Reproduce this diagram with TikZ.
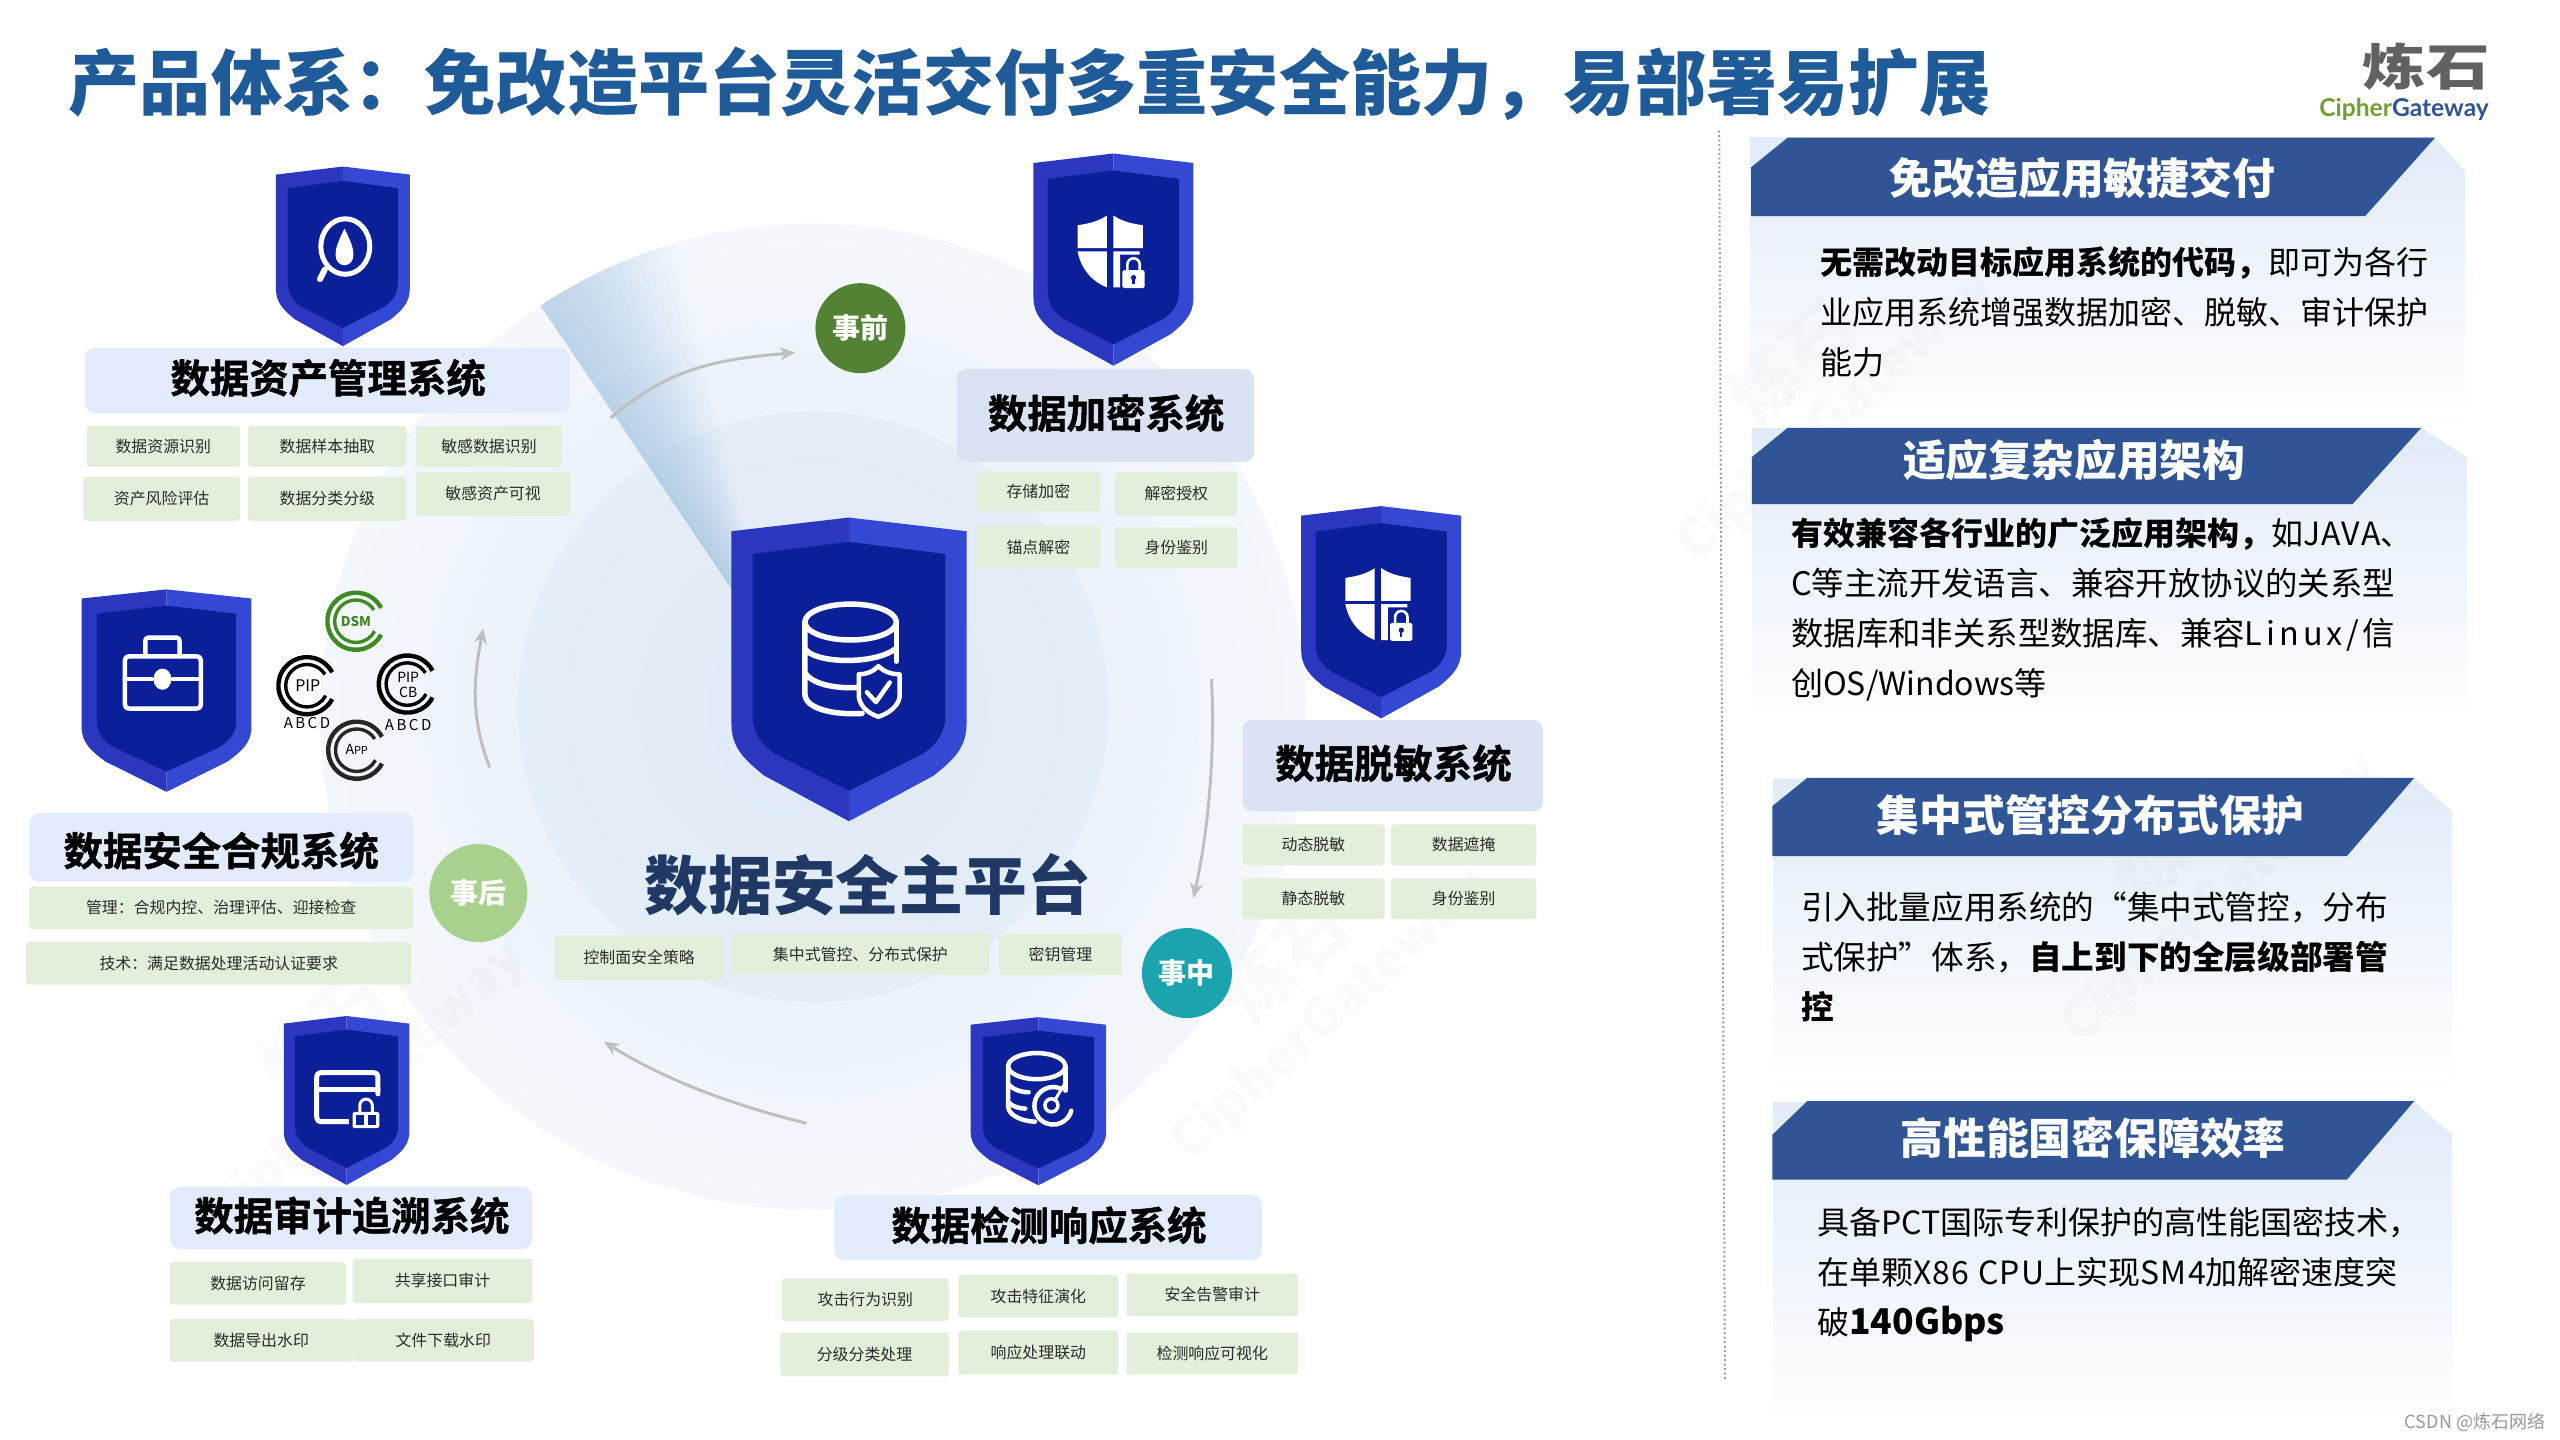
\documentclass[tikz,border=0pt]{standalone}
\usepackage{fontspec}
\setmainfont{Noto Sans CJK SC}
\newfontfamily\sysf{Noto Sans CJK SC}[UprightFont={* Bold},FakeBold=1.2]
\newfontfamily\logof{Lato}
\usetikzlibrary{arrows.meta}
\definecolor{titleblue}{HTML}{1F5A99}
\definecolor{platform}{HTML}{1F3864}
\definecolor{hdr}{HTML}{2F5597}
\definecolor{chipfill}{HTML}{E2EFDA}
\definecolor{chipink}{HTML}{2B2B2B}
\definecolor{boxa}{HTML}{E3ECFD}
\definecolor{boxb}{HTML}{DAE3F3}
\definecolor{shl}{HTML}{2B37BE}
\definecolor{shr}{HTML}{3548D4}
\definecolor{shi}{HTML}{0B1F99}
\definecolor{flowgray}{HTML}{BFBFBF}
\definecolor{ringa}{HTML}{F2F6FC}
\definecolor{ringb}{HTML}{E9F1FA}
\definecolor{ringc}{HTML}{DEEAF6}
\definecolor{panelblue}{HTML}{E1ECF9}
\definecolor{dsmgreen}{HTML}{3F8A23}
\definecolor{logogreen}{HTML}{6FA033}
\definecolor{wedgeblue}{HTML}{8FBBE3}
\definecolor{phasea}{HTML}{548235}
\definecolor{phaseb}{HTML}{A9D18E}
\definecolor{phasec}{HTML}{1BA4AD}
\tikzset{
  chipbox/.style={fill=chipfill,rounded corners=3},
  chiptext/.style={font=\fontsize{15.9}{19}\selectfont,text=chipink,inner sep=0pt},
  sysbox/.style={rounded corners=10},
  systext/.style={font=\sysf\fontsize{39.4}{44}\selectfont,text=black,inner sep=0pt},
  phase/.style={circle,minimum size=#1,inner sep=0pt,text=white,font=\bfseries\fontsize{28}{30}\selectfont},
  flow/.style={draw=flowgray,line width=3pt,-{Stealth[length=15pt,width=13pt]}},
  hdrtext/.style={font=\bfseries\fontsize{42.8}{46}\selectfont,text=white,inner sep=0pt},
  body/.style={font=\fontsize{32}{50}\selectfont,text=black,align=left,anchor=west,inner sep=0pt},
  icon/.style={draw=white,line width=5pt,line cap=round,line join=round},
  iconfine/.style={draw=white,line width=3.5pt,line cap=round,line join=round},
  badge/.style={inner sep=0pt,font=\fontsize{16}{17}\selectfont,text=black},
  wmark/.style={text=black,opacity=0.018,inner sep=0pt},
}
\newcommand{\shieldmark}[4]{%
  \begin{scope}[shift={(#1,#2)},xscale=#3/100,yscale=#4/100]
    \fill[shl] (0,0)--(-50,4.5)--(-50,68) .. controls (-50,76) and (-44,80) .. (-36,85)--(0,100)--cycle;
    \fill[shr] (0,0)--(50,4.5)--(50,68) .. controls (50,76) and (44,80) .. (36,85)--(0,100)--cycle;
    \fill[shi] (0,8)--(-41,12)--(-41,65) .. controls (-41,71) and (-37,75) .. (-31,78)--(0,90)--(31,78) .. controls (37,75) and (41,71) .. (41,65)--(41,12)--cycle;
  \end{scope}}
\newcommand{\chipat}[6]{%
  \path[chipbox] (#2,#3) rectangle (#4,#5);
  \node[chiptext] (#1) at ({(#2+#4)/2},{(#3+#5)/2}) {#6};}
\newcommand{\sysat}[7]{%
  \path[sysbox,fill=#6] (#2,#3) rectangle (#4,#5);
  \node[systext] (#1) at ({(#2+#4)/2+0.5},{(#3+#5)/2-1.5}) {#7};}
\newcommand{\shieldlock}[2]{%
  \begin{scope}[shift={(#1,#2)}]
    \fill[white] (-2,0) .. controls (-8,4) and (-14,5) .. (-20,6)--(-20,20)--(-2,20)--cycle;
    \fill[white] (2,0) .. controls (8,4) and (14,5) .. (20,6)--(20,20)--(2,20)--cycle;
    \fill[white] (-20,22)--(-2,22)--(-2,44) .. controls (-12,40) and (-18,32) .. (-20,22)--cycle;
    \fill[white] (2,22)--(18,22)--(18,24)--(6,24)--(6,44)--(2,44)--cycle;
    \fill[white,rounded corners=1.5] (7.5,33.5) rectangle (21,44.5);
    \draw[white,line width=2.6pt] (10.5,33.5) -- (10.5,30) arc[start angle=180,end angle=360,radius=3.8] -- (18.1,33.5);
    \fill[shi] (14.3,38) circle[radius=1.6];
    \fill[shi] (13.6,38) rectangle (15,42);
  \end{scope}}
\newcommand{\certring}[3]{%
  \begin{scope}[shift={(#1,#2)}]
    \draw[#3,line width=4.4pt] (28:17.5) arc[start angle=28,end angle=332,radius=17.5];
    \draw[#3,line width=3.4pt] (-32:13) arc[start angle=-32,end angle=-332,radius=13];
  \end{scope}}
\begin{document}
\begin{tikzpicture}[x=1.63265pt,y=-1.63265pt]
\useasboundingbox (0,0) rectangle (1568,882);
\fill[white] (0,0) rectangle (1568,882);

% concentric disks
\shade[inner color=ringb,outer color=ringa!85!white] (498,439) circle[radius=302];
\shade[inner color=ringb!85!ringc,outer color=ringb!80!white] (498,435) circle[radius=237];
\shade[inner color=ringc,outer color=ringc!80!white] (498,433) circle[radius=181];

% wedge
\begin{scope}
  \clip (498,439) circle[radius=302];
  \foreach \a in {104,105,...,124}{
    \fill[wedgeblue,opacity=0.03,shift={(476,402)}] (0,0)--(-124:420)--(-\a:420)--cycle;
  }
\end{scope}

% panel backgrounds
\shade[top color=panelblue,bottom color=white] (1072,132) -- (1072,84) -- (1491,84) -- (1510,105) -- (1510,262) -- (1072,262) -- cycle;
\shade[top color=panelblue,bottom color=white] (1073,308) -- (1073,262) -- (1483,262) -- (1511,280) -- (1511,448) -- (1073,448) -- cycle;
\shade[top color=panelblue,bottom color=white] (1086,524) -- (1086,477) -- (1479,477) -- (1502,497) -- (1502,670) -- (1086,670) -- cycle;
\shade[top color=panelblue,bottom color=white] (1086,722) -- (1086,675) -- (1479,675) -- (1502,695) -- (1502,882) -- (1086,882) -- cycle;

% watermarks
\foreach \nm/\wx/\wy in {wa/225/665,wb/815/622,wc/1125/255,wd/1360/550}{
  \node[wmark,rotate=42,font=\bfseries\fontsize{52}{54}\selectfont] (\nm t) at (\wx,\wy) {CipherGateway};
  \node[wmark,rotate=42,font=\bfseries\fontsize{70}{72}\selectfont,anchor=center] (\nm l) at (\wx-28,\wy-34) {炼石};
}

% divider
\draw[gray!75,line width=2pt,dash pattern=on 2pt off 2.5pt] (1053,80) -- (1056.5,845);

% title and logo
\node[inner sep=0pt,anchor=west,text=titleblue,font=\bfseries\fontsize{71.2}{74}\selectfont] (title) at (42,51.5) {产品体系：免改造平台灵活交付多重安全能力，易部署易扩展};
\node[inner sep=0pt,text=black!62,xscale=1.27,font=\bfseries\fontsize{50}{52}\selectfont] (logocn) at (1486,41) {炼石};
\node[inner sep=0pt,font=\logof\bfseries\fontsize{24.6}{27}\selectfont] (logoen) at (1472.5,67) {\textcolor{logogreen}{Cipher}\textcolor{hdr}{Gateway}};
\node[inner sep=0pt,text=black!40,anchor=east,font=\fontsize{18}{20}\selectfont] (csdn) at (1559,871) {CSDN @炼石网络};

% flow arrows
\coordinate (flowAs) at (374,256);
\coordinate (flowAe) at (487,216);
\coordinate (flowBs) at (742,416);
\coordinate (flowBe) at (731,550);
\coordinate (flowCs) at (494,688);
\coordinate (flowCe) at (370,638);
\coordinate (flowDs) at (300,470);
\coordinate (flowDe) at (296,385);
\draw[flow] (flowAs) .. controls (410,225) and (440,220) .. (flowAe);
\draw[flow] (flowBs) .. controls (744,450) and (742,500) .. (flowBe);
\draw[flow] (flowCs) .. controls (445,676) and (405,660) .. (flowCe);
\draw[flow] (flowDs) .. controls (288,440) and (290,415) .. (flowDe);

% phase nodes
\node[phase=90pt,fill=phasea] (pre) at (527,201) {事前};
\node[phase=98pt,fill=phaseb] (post) at (293,547) {事后};
\node[phase=90pt,fill=phasec] (during) at (727,596) {事中};

% centre
\shieldmark{520}{317}{144}{186}
\begin{scope}
  \draw[iconfine,line width=5.5pt] (521,381) ellipse[x radius=28,y radius=11];
  \draw[iconfine,line width=5.5pt] (493,381) -- (493,425) .. controls (493,434) and (510,438) .. (528,437);
  \draw[iconfine,line width=5.5pt] (549,381) -- (549,405);
  \draw[iconfine,line width=5.5pt] (493,397) .. controls (497,406) and (535,408) .. (549,397);
  \draw[iconfine,line width=5.5pt] (493,412) .. controls (498,420) and (515,422) .. (526,421);
  \path[fill=shi,draw=white,line width=4.5pt,line join=round] (538,408) .. controls (542,412) and (547,413) .. (551,413) -- (551,427) .. controls (550,433) and (544,437) .. (538,439) .. controls (532,437) and (527,433) .. (526,427) -- (526,413) .. controls (530,413) and (534,412) .. (538,408) -- cycle;
  \draw[iconfine,line width=4.5pt] (531,424) -- (536.5,430) -- (545,418);
\end{scope}
\node[inner sep=0pt,text=platform,font=\bfseries\fontsize{63.8}{66}\selectfont] (platform) at (531.5,542) {数据安全主平台};
\chipat{cpa}{340}{573}{443}{600}{控制面安全策略}
\chipat{cpb}{448}{572}{606}{597}{集中式管控、分布式保护}
\chipat{cpc}{612}{572}{687}{597}{密钥管理}

% asset
\shieldmark{210}{102}{82}{110}
\draw[icon,line width=5pt] (211.5,151) ellipse[x radius=15,y radius=17];
\draw[icon,line width=6pt] (199,165) -- (196,171);
\fill[white] (211,140) .. controls (207,148) and (205.5,152) .. (205.5,156) .. controls (205.5,160) and (208,162.5) .. (211,162.5) .. controls (214,162.5) and (216.5,160) .. (216.5,156) .. controls (216.5,152) and (215,148) .. (211,140) -- cycle;
\sysat{sysA}{52}{213}{349}{253}{boxa}{数据资产管理系统}
\chipat{aa}{53}{261}{147}{286}{数据资源识别}
\chipat{ab}{152}{261}{249}{286}{数据样本抽取}
\chipat{ac}{255}{261}{344}{286}{敏感数据识别}
\chipat{ad}{51}{292}{147}{319}{资产风险评估}
\chipat{ae}{152}{292}{249}{319}{数据分类分级}
\chipat{af}{255}{289}{349}{316}{敏感资产可视}

% encryption
\shieldmark{682}{94}{98}{130}
\shieldlock{680}{132}
\sysat{sysB}{586}{226}{768}{283}{boxb}{数据加密系统}
\chipat{ba}{598}{289}{674}{313}{存储加密}
\chipat{bb}{683}{289}{758}{316}{解密授权}
\chipat{bc}{598}{322}{674}{348}{锚点解密}
\chipat{bd}{683}{323}{758}{348}{身份鉴别}

% masking
\shieldmark{846}{310}{98}{130}
\shieldlock{844}{348}
\sysat{sysC}{761}{441}{945}{497}{boxb}{数据脱敏系统}
\chipat{ca}{761}{505}{848}{530}{动态脱敏}
\chipat{cb}{852}{505}{941}{530}{数据遮掩}
\chipat{cc}{761}{538}{848}{563}{静态脱敏}
\chipat{cd}{852}{538}{941}{563}{身份鉴别}

% detection
\shieldmark{636}{623}{83}{103}
\draw[iconfine,line width=4.5pt] (635,653) ellipse[x radius=17.5,y radius=8];
\draw[iconfine,line width=4.5pt] (617.5,653) -- (617.5,678) .. controls (618,684) and (628,687) .. (634,687);
\draw[iconfine,line width=4.5pt] (652.5,653) -- (652.5,668);
\draw[iconfine,line width=4.5pt] (617.5,664) .. controls (620,667) and (625,669) .. (630,669);
\draw[iconfine,line width=4.5pt] (617.5,675) .. controls (620,678) and (625,679) .. (628,679);
\draw[iconfine,line width=4.5pt] (649,666.5) arc[start angle=-70,end angle=-345,radius=11.5];
\draw[iconfine,line width=3.5pt] (644,677) circle[radius=4];
\draw[iconfine,line width=3pt] (646,674) -- (652,664);

% audit
\shieldmark{212.3}{622.3}{77}{103.5}
\draw[iconfine,line width=5pt] (214,687) -- (197,687) .. controls (195,687) and (194,686) .. (194,684) -- (194,660) .. controls (194,658) and (195,657) .. (197,657) -- (228.5,657) .. controls (230.5,657) and (231.5,658) .. (231.5,660) -- (231.5,670);
\draw[iconfine,line width=5pt] (194,667.5) -- (231.5,667.5);
\fill[shi] (213.5,674) rectangle (235,693.5);
\fill[white,rounded corners=1.5] (216,681) rectangle (232.3,691);
\fill[shi] (218.2,683) rectangle (223.2,689);
\fill[shi] (225.1,683) rectangle (230.1,689);
\draw[white,line width=3pt] (220.4,681.5) -- (220.4,677) arc[start angle=180,end angle=360,radius=3.8] -- (228,681.5);

% compliance
\shieldmark{102}{361}{104}{124}
\draw[iconfine,line width=4.5pt] (76.5,405) .. controls (76.5,403) and (77.5,402) .. (79.5,402) -- (120,402) .. controls (122,402) and (123,403) .. (123,405) -- (123,431) .. controls (123,433) and (122,434) .. (120,434) -- (79.5,434) .. controls (77.5,434) and (76.5,433) .. (76.5,431) -- cycle;
\draw[iconfine,line width=4.5pt] (89,402) -- (89,393) .. controls (89,391) and (90,390.5) .. (92,390.5) -- (107,390.5) .. controls (109,390.5) and (110,391) .. (110,393) -- (110,402);
\draw[iconfine,line width=4.5pt] (76.5,416) -- (93,416);
\draw[iconfine,line width=4.5pt] (106,416) -- (123,416);
\fill[white] (99.5,416) ellipse[x radius=5.5,y radius=6.5];
\path[sysbox,fill=boxa] (18,498) rectangle (253,540);
\node[systext] (sysD) at (135.5,521) {数据安全合规系统};
\chipat{da}{18}{543}{253}{569}{管理：合规内控、治理评估、迎接检查}
\chipat{db}{16}{577}{252}{603}{技术：满足数据处理活动认证要求}

% certificates
\certring{218}{380.5}{dsmgreen}
\node[badge,text=dsmgreen,font=\bfseries\fontsize{13.5}{14}\selectfont] (bDSM) at (218,380.5) {DSM};
\certring{188}{420}{black}
\node[badge] (bPIP) at (188.5,420) {PIP};
\node[badge,font=\fontsize{15}{16}\selectfont] (bPIPlabel) at (188,443) {A\,B\,C\,D};
\certring{249.5}{419}{black}
\node[badge,align=center,font=\fontsize{14}{15}\selectfont] (bCB) at (250,419.5) {PIP\\CB};
\node[badge,font=\fontsize{15}{16}\selectfont] (bCBlabel) at (250,444) {A\,B\,C\,D};
\certring{218.5}{459.5}{black!85}
\node[badge,font=\fontsize{14}{15}\selectfont] (bApp) at (218.5,459) {A\fontsize{11}{15}\selectfont PP};

% audit text
\sysat{sysE}{104}{727}{326}{765}{boxa}{数据审计追溯系统}
\chipat{ea}{104}{773}{212}{799}{数据访问留存}
\chipat{eb}{216}{771}{326}{798}{共享接口审计}
\chipat{ec}{104}{808}{216}{834}{数据导出水印}
\chipat{ed}{216}{808}{327}{834}{文件下载水印}

% detection text
\sysat{sysF}{511}{732}{773}{772}{boxa}{数据检测响应系统}
\chipat{fa}{479}{783}{581}{809}{攻击行为识别}
\chipat{fb}{587}{781}{685}{807}{攻击特征演化}
\chipat{fc}{690}{780}{795}{806}{安全告警审计}
\chipat{fd}{478}{816}{581}{843}{分级分类处理}
\chipat{fe}{587}{815}{685}{842}{响应处理联动}
\chipat{ff}{690}{816}{795}{842}{检测响应可视化}

% panel headers
\fill[hdr] (1072.5,102.5)--(1095,84.3)--(1491.5,84.3)--(1448.7,132.3)--(1072.5,132.3)--cycle;
\node[hdrtext] (hA) at (1275.5,109) {免改造应用敏捷交付};
\node[body] (tA) at (1115,191) {\textbf{无需改动目标应用系统的代码，}即可为各行\\业应用系统增强数据加密、脱敏、审计保护\\能力};

\fill[hdr] (1073,280)--(1095,262)--(1483,262)--(1441,308.7)--(1073,308.7)--cycle;
\node[hdrtext] (hB) at (1270.5,282) {适应复杂应用架构};
\node[body] (tB) at (1097,373) {\textbf{有效兼容各行业的广泛应用架构，}如J\kern1pt A\kern1pt V\kern1pt A、\\\fontsize{32.4}{50}\selectfont C等主流开发语言、兼容开放协议的关系型\\\fontsize{32.4}{50}\selectfont 数据库和非关系型数据库、兼容L\kern4pt i\kern4pt n\kern4pt u\kern4pt x\kern4pt/\kern3pt 信\\\fontsize{32}{50}\selectfont 创OS/Windows等};

\fill[hdr] (1085.6,493.7)--(1106.9,476.5)--(1478.6,476.5)--(1437.5,524.3)--(1085.6,524.3)--cycle;
\node[hdrtext] (hC) at (1280.5,499) {集中式管控分布式保护};
\node[body,font=\fontsize{32.6}{50}\selectfont] (tC) at (1103,586) {引入批量应用系统的“集中式管控，分布\\式保护”体系，\textbf{自上到下的全层级部署管}\\\textbf{控}};

\fill[hdr] (1085.6,695)--(1106.9,674.5)--(1478.6,674.5)--(1437.5,722.5)--(1085.6,722.5)--cycle;
\node[hdrtext] (hD) at (1282,697) {高性能国密保障效率};
\node[body] (tD) at (1113,780.5) {具备PCT国际专利保护的高性能国密技术，\\在单颗X\kern1pt 8\kern1pt 6 \kern2pt C\kern1pt P\kern1pt U上实现S\kern1.5pt M\kern1.5pt 4加解密速度突\\破\textbf{\fontsize{35.5}{50}\selectfont 140Gbps}};
\end{tikzpicture}
\end{document}
